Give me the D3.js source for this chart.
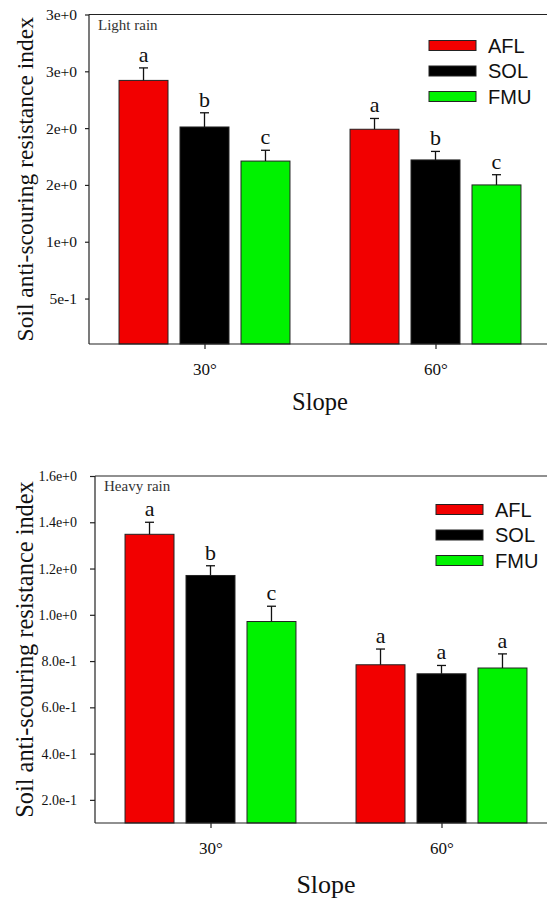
<!DOCTYPE html>
<html lang="en">
  <head>
    <meta charset="UTF-8" />
    <title>Soil anti-scouring resistance index</title>
    <script src="https://d3js.org/d3.v7.min.js"></script>
    <style>
      body { margin: 0; background: #fff; }
      svg { display: block; }
      .serif { font-family: "Liberation Serif", "Times New Roman", serif; fill: #111; }
      .sans { font-family: "Liberation Sans", Arial, sans-serif; fill: #111; }
      .axis path, .axis line { stroke: #222; stroke-width: 1.2; }
    </style>
  </head>
  <body>
    <svg width="547" height="902"></svg>
    <script>
      // data
      const slopes = ["30°", "60°"];
      const treatments = ["AFL", "SOL", "FMU"];
      const colors = ["#f20000", "#000000", "#00f200"];

      const lightMean = [[2.42, 2.01, 1.71], [1.99, 1.72, 1.50]];
      const lightErr = [[0.11, 0.125, 0.095], [0.095, 0.075, 0.09]];
      const lightLetters = [["a", "b", "c"], ["a", "b", "c"]];
      const lightTicks = [0.5, 1, 1.5, 2, 2.5, 3];

      const heavyMean = [[1.348, 1.17, 0.971], [0.784, 0.745, 0.77]];
      const heavyErr = [[0.052, 0.042, 0.066], [0.068, 0.036, 0.061]];
      const heavyLetters = [["a", "b", "c"], ["a", "a", "a"]];
      const heavyTicks = [0.2, 0.4, 0.6, 0.8, 1.0, 1.2, 1.4, 1.6];

      const serifFont = '"Liberation Serif", "Times New Roman", serif';
      const svg = d3.select("svg");

      function drawPanel(p) {
        const g = svg.append("g");
        const x0 = d3.scaleBand().domain(slopes)
          .range([p.left, p.left + 462]).paddingInner(0.26).paddingOuter(0.13);
        const x1 = d3.scaleBand().domain(treatments)
          .range([0, x0.bandwidth()]).paddingInner(0.197).paddingOuter(0);
        const y = d3.scaleLinear().domain(p.domain).range([p.bottom, p.top]);

        const rows = [];
        slopes.forEach((s, i) => treatments.forEach((t, j) => {
          rows.push({ slope: s, t: t, j: j, v: p.mean[i][j], e: p.err[i][j], l: p.letters[i][j] });
        }));

        // bars
        g.selectAll("rect.bar").data(rows).join("rect")
          .attr("class", "bar")
          .attr("x", d => x0(d.slope) + x1(d.t))
          .attr("y", d => y(d.v))
          .attr("width", x1.bandwidth())
          .attr("height", d => p.bottom - y(d.v))
          .attr("fill", d => colors[d.j])
          .attr("stroke", "#222").attr("stroke-width", 1);

        // upper error bars
        const cx = d => x0(d.slope) + x1(d.t) + x1.bandwidth() / 2;
        g.selectAll("line.err").data(rows).join("line")
          .attr("class", "err")
          .attr("x1", cx).attr("x2", cx)
          .attr("y1", d => y(d.v)).attr("y2", d => y(d.v + d.e))
          .attr("stroke", "#111").attr("stroke-width", 1.3);
        g.selectAll("line.cap").data(rows).join("line")
          .attr("class", "cap")
          .attr("x1", d => cx(d) - 4.5).attr("x2", d => cx(d) + 4.5)
          .attr("y1", d => y(d.v + d.e)).attr("y2", d => y(d.v + d.e))
          .attr("stroke", "#111").attr("stroke-width", 1.3);

        // significance letters
        g.selectAll("text.sig").data(rows).join("text")
          .attr("class", "serif sig")
          .attr("x", cx)
          .attr("y", d => y(d.v + d.e) - 6)
          .attr("text-anchor", "middle")
          .style("font-size", "22px")
          .text(d => d.l);

        // frame: top + bottom run past the right edge
        g.append("line").attr("x1", p.left).attr("x2", 560)
          .attr("y1", p.top).attr("y2", p.top)
          .attr("stroke", "#222").attr("stroke-width", 1.2);

        // axes
        const yAxis = d3.axisLeft(y).tickValues(p.ticks)
          .tickFormat(d3.format(p.fmt)).tickSize(p.tickSize).tickPadding(p.tickPad).tickSizeOuter(0);
        const ya = g.append("g").attr("class", "axis")
          .attr("transform", `translate(${p.left},0)`).call(yAxis);
        ya.attr("font-family", serifFont);
        ya.select(".domain").attr("d", `M0,${p.top}V${p.bottom}`);
        ya.selectAll("text").attr("fill", "#111")
          .style("font-family", serifFont)
          .style("font-size", p.yFont + "px");

        const xAxis = d3.axisBottom(d3.scalePoint().domain(slopes)
          .range([x0("30°") + x0.bandwidth() / 2, x0("60°") + x0.bandwidth() / 2]))
          .tickSize(5).tickPadding(14).tickSizeOuter(0);
        const xa = g.append("g").attr("class", "axis")
          .attr("transform", `translate(0,${p.bottom})`).call(xAxis);
        xa.attr("font-family", serifFont);
        xa.select(".domain").attr("d", `M${p.left},0H560`);
        xa.selectAll("text").attr("fill", "#111")
          .style("font-family", serifFont)
          .style("font-size", "17px");

        // panel label
        g.append("text").attr("class", "serif")
          .attr("x", p.left + 9).attr("y", p.top + 15)
          .style("font-size", "15px").style("fill", "#333")
          .text(p.label);

        // legend
        const lg = g.append("g").selectAll("g").data(treatments).join("g")
          .attr("transform", (d, i) => `translate(${p.legX},${p.legY + i * 25.5})`);
        lg.append("rect").attr("width", 47).attr("height", 10).attr("y", -5)
          .attr("fill", (d, i) => colors[i]).attr("stroke", "#222").attr("stroke-width", 1);
        lg.append("text").attr("class", "sans")
          .attr("x", 59).attr("dy", "0.36em")
          .style("font-size", "20px").text(d => d);

        // axis titles
        g.append("text").attr("class", "serif")
          .attr("transform", `translate(33,${(p.top + p.bottom) / 2}) rotate(-90)`)
          .attr("text-anchor", "middle")
          .style("font-size", p.titleFont + "px")
          .text("Soil anti-scouring resistance index");
        g.append("text").attr("class", "serif")
          .attr("x", p.left + 231).attr("y", p.slopeY)
          .attr("text-anchor", "middle")
          .style("font-size", p.slopeFont + "px")
          .text("Slope");
      }

      drawPanel({
        left: 89, top: 14.5, bottom: 344, domain: [0.1, 3.0],
        mean: lightMean, err: lightErr, letters: lightLetters, ticks: lightTicks,
        fmt: ".0e", tickSize: 4, tickPad: 8, yFont: 15.5, label: "Light rain",
        legX: 429, legY: 45.5, titleFont: 23.5, slopeY: 410, slopeFont: 24.5
      });

      drawPanel({
        left: 95, top: 476, bottom: 823, domain: [0.1, 1.6],
        mean: heavyMean, err: heavyErr, letters: heavyLetters, ticks: heavyTicks,
        fmt: ".1e", tickSize: 5, tickPad: 13, yFont: 14, label: "Heavy rain",
        legX: 436, legY: 509.5, titleFont: 24.4, slopeY: 893, slopeFont: 26
      });
    </script>
  </body>
</html>
